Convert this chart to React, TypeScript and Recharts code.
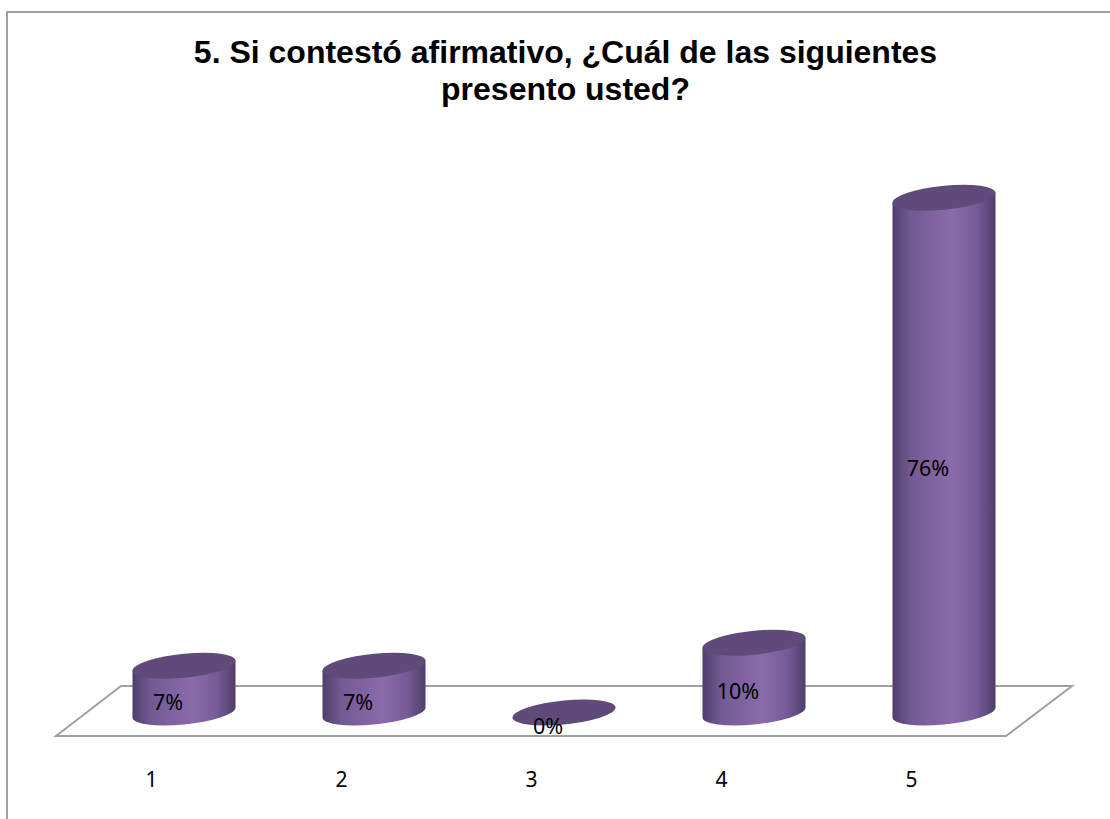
import React from "react";
import { BarChart, Bar, XAxis, YAxis, LabelList } from "recharts";

const categories = ["1", "2", "3", "4", "5"];
const percentages = [6.9, 6.9, 0, 10.3, 75.9];
const titleLines = ["5. Si contestó afirmativo, ¿Cuál de las siguientes", "presento usted?"];

const data = categories.map((category, index) => ({
  category,
  percentage: percentages[index],
}));

const LABEL_FONT = "'Noto Sans', sans-serif";
const TICK_SHIFT = -32; // axis labels sit left of the bars because of the perspective

// Cylinder drawn in a skewed group so both ellipses tilt the same way
const Cylinder = ({ x, y, width, height }: any) => {
  const rx = width / 2;
  const ry = 12;
  const bottom = y + height;
  return (
    <g transform={`translate(${x + rx},0) skewY(-5.5)`}>
      {height > 0 && (
        <path
          d={`M${-rx},${y} L${-rx},${bottom} A${rx},${ry} 0 0 0 ${rx},${bottom} L${rx},${y} Z`}
          fill="url(#cylinderBody)"
        />
      )}
      <ellipse cx={0} cy={y} rx={rx} ry={ry} fill="#604a79" />
    </g>
  );
};

const CategoryTick = ({ x, y, payload }: any) => (
  <text
    x={x + TICK_SHIFT}
    y={y + 66}
    textAnchor="middle"
    fontFamily={LABEL_FONT}
    fontSize={21}
    fill="#000000"
  >
    {payload.value}
  </text>
);

const ValueLabel = ({ x, y, width, height, value }: any) => (
  <text
    x={x + width / 2 - 16}
    y={y + height / 2 + 21}
    textAnchor="middle"
    fontFamily={LABEL_FONT}
    fontSize={21.5}
    fill="#000000"
  >
    {Math.round(value)}%
  </text>
);

const App = () => (
  <div style={{ position: "absolute", left: 0, top: 0, background: "#ffffff" }}>
    <BarChart
      width={1110}
      height={819}
      data={data}
      margin={{ top: 170, right: 71.5, bottom: 46.5, left: 88.5 }}
    >
      <defs>
        <linearGradient id="cylinderBody" x1="0" y1="0" x2="1" y2="0">
          <stop offset="0%" stopColor="#4f3e6b" />
          <stop offset="18%" stopColor="#735a93" />
          <stop offset="58%" stopColor="#8a6bab" />
          <stop offset="82%" stopColor="#765b97" />
          <stop offset="100%" stopColor="#4f3e6b" />
        </linearGradient>
      </defs>
      {/* frame: only the top and left edges are inside the picture */}
      <path d="M7,819 L7,12 L1110,12" fill="none" stroke="#a0a0a0" strokeWidth={2} />
      <text textAnchor="middle" fontFamily="'Liberation Sans', Arial, sans-serif" fontWeight="bold" fontSize={32} fill="#000000">
        <tspan x={565.5} y={63}>{titleLines[0]}</tspan>
        <tspan x={565.5} y={100}>{titleLines[1]}</tspan>
      </text>
      <polygon
        points="56,736 121,686 1072,686 1006,736"
        fill="none"
        stroke="#a0a0a0"
        strokeWidth={2}
      />
      <XAxis
        dataKey="category"
        axisLine={false}
        tickLine={false}
        height={60}
        tick={<CategoryTick />}
      />
      <YAxis hide domain={[0, 80]} />
      <Bar dataKey="percentage" barSize={103} shape={<Cylinder />} isAnimationActive={false}>
        <LabelList dataKey="percentage" content={<ValueLabel />} />
      </Bar>
    </BarChart>
  </div>
);

export default App;
